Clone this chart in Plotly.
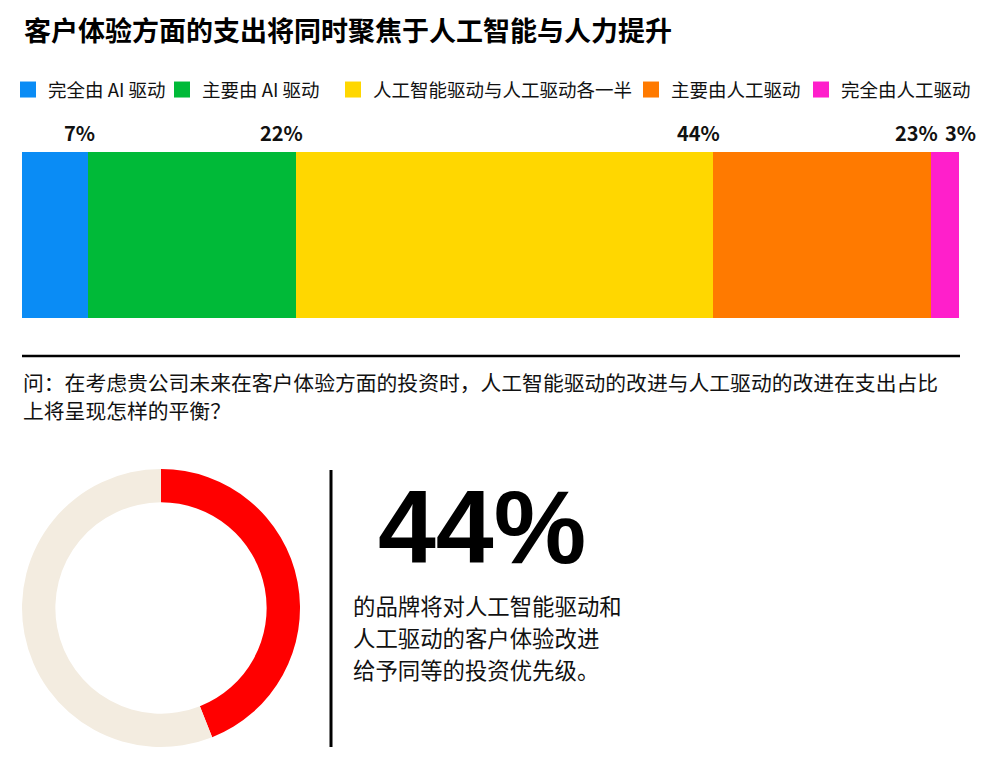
import plotly.graph_objects as go

# the page adds an 8px body margin, so the figure is a little smaller than the window
PAGE_PAD = 8
W, H = 1000 - 2 * PAGE_PAD, 770 - 2 * PAGE_PAD

categories = ["完全由 AI 驱动", "主要由 AI 驱动", "人工智能驱动与人工驱动各一半", "主要由人工驱动", "完全由人工驱动"]
shares = [7, 22, 44, 23, 3]
colors = ["#0A8CF5", "#00BA38", "#FFD700", "#FF7A00", "#FF1FCB"]
legend_text_px = [44, 198, 369, 667, 837]

donut_labels = ["同等投资", "其他"]
donut_values = [44, 56]
donut_colors = ["#FF0000", "#F3ECE0"]

title_text = "客户体验方面的支出将同时聚焦于人工智能与人力提升"
question_lines = ["问：在考虑贵公司未来在客户体验方面的投资时，人工智能驱动的改进与人工驱动的改进在支出占比",
                  "上将呈现怎样的平衡？"]
big_number = "44%"
blurb_lines = ["的品牌将对人工智能驱动和", "人工驱动的客户体验改进", "给予同等的投资优先级。"]

FONT = "Noto Sans CJK SC"


def px_x(p):
    return (p - PAGE_PAD) / W


def px_y(p):
    return 1 - (p - PAGE_PAD) / H


fig = go.Figure()

legend_names = ["legend"] + [f"legend{i}" for i in range(2, len(categories) + 1)]
for name, val, col, lg in zip(categories, shares, colors, legend_names):
    fig.add_trace(go.Bar(
        x=[val], y=[""], orientation="h", name=name,
        marker=dict(color=col, line=dict(width=0)),
        hoverinfo="skip", showlegend=False,
    ))
    # legend proxy so the key square can be drawn larger than the bar default
    fig.add_trace(go.Scatter(
        x=[None], y=[None], mode="markers", name=name, legend=lg,
        marker=dict(symbol="square", size=16, color=col),
        hoverinfo="skip",
    ))

fig.add_trace(go.Pie(
    labels=donut_labels, values=donut_values, hole=0.76, sort=False,
    direction="clockwise", rotation=0,
    marker=dict(colors=donut_colors, line=dict(width=0)),
    textinfo="none", hoverinfo="skip", showlegend=False,
    domain=dict(x=[px_x(22), px_x(300)], y=[px_y(747), px_y(469)]),
))

# percent labels sit above the right end of each segment
annotations = []
running = 0
for val in shares:
    running += val
    annotations.append(dict(
        x=running, xref="x", y=px_y(133), yref="paper",
        text=f"<b>{val}%</b>", showarrow=False, xanchor="right", yanchor="middle",
        xshift=9 if val >= 5 else 19, font=dict(family=FONT, size=20, color="#111"),
    ))

annotations.append(dict(
    x=px_x(22), y=px_y(30), xref="paper", yref="paper", text=f"<b>{title_text}</b>",
    showarrow=False, xanchor="left", yanchor="middle",
    font=dict(family=FONT, size=27, color="#000")))

for i, line in enumerate(question_lines):
    annotations.append(dict(
        x=px_x(21), y=px_y(382 + 28 * i), xref="paper", yref="paper", text=line,
        showarrow=False, xanchor="left", yanchor="middle",
        font=dict(family=FONT, size=20.8, color="#111")))

annotations.append(dict(
    x=px_x(482), y=px_y(527), xref="paper", yref="paper", text=f"<b>{big_number}</b>",
    showarrow=False, xanchor="center", yanchor="middle",
    font=dict(family="Liberation Sans", size=104, color="#000")))

for i, line in enumerate(blurb_lines):
    annotations.append(dict(
        x=px_x(351), y=px_y(605 + 32 * i), xref="paper", yref="paper", text=line,
        showarrow=False, xanchor="left", yanchor="middle",
        font=dict(family=FONT, size=22.4, color="#111")))

shapes = [
    dict(type="line", xref="paper", yref="paper", x0=px_x(22), x1=px_x(960),
         y0=px_y(356), y1=px_y(356), line=dict(color="#000", width=2.5)),
    dict(type="line", xref="paper", yref="paper", x0=px_x(331), x1=px_x(331),
         y0=px_y(470), y1=px_y(747), line=dict(color="#000", width=3)),
]

legends = {}
for lg, tx in zip(legend_names, legend_text_px):
    legends[lg] = dict(
        x=px_x(tx - 36), y=px_y(90), xanchor="left", yanchor="middle",
        orientation="h", bgcolor="rgba(0,0,0,0)", itemwidth=30,
        font=dict(family=FONT, size=18.5, color="#111"),
    )

fig.update_layout(
    width=W, height=H, margin=dict(l=0, r=0, t=0, b=0),
    paper_bgcolor="white", plot_bgcolor="white",
    barmode="stack", bargap=0,
    xaxis=dict(domain=[px_x(22), px_x(959)], range=[0, sum(shares)],
               visible=False, fixedrange=True),
    yaxis=dict(domain=[px_y(318), px_y(152)], range=[-0.5, 0.5],
               visible=False, fixedrange=True),
    annotations=annotations, shapes=shapes,
    **legends,
)

fig.write_html("out.html")
